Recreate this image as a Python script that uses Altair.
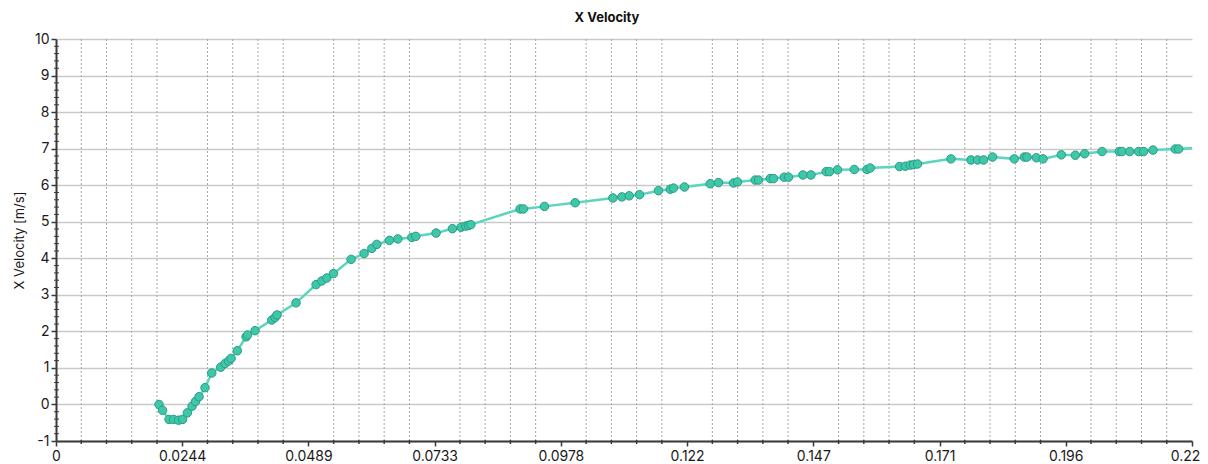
import altair as alt
import pandas as pd

# Data
x_vals = [0.01995, 0.02063, 0.02189, 0.02276, 0.02373, 0.02451, 0.02544, 0.02635, 0.02702, 0.0277,
          0.02886, 0.03016, 0.0319, 0.03274, 0.03342, 0.0339, 0.03512, 0.03681, 0.0371, 0.03855,
          0.04179, 0.04243, 0.04281, 0.04649, 0.05037, 0.05147, 0.05244, 0.05372, 0.05715, 0.05967,
          0.06116, 0.06213, 0.06457, 0.0662, 0.06891, 0.06968, 0.07361, 0.07677, 0.07846, 0.07937,
          0.07987, 0.08034, 0.08989, 0.09053, 0.09459, 0.10054, 0.10785, 0.10959, 0.111, 0.113,
          0.11668, 0.11895, 0.11958, 0.12171, 0.1267, 0.1283, 0.13121, 0.13198, 0.13541, 0.13605,
          0.13832, 0.13896, 0.14103, 0.14186, 0.14465, 0.1462, 0.14916, 0.1498, 0.15135, 0.15459,
          0.15705, 0.15769, 0.16337, 0.16447, 0.16544, 0.16608, 0.16685, 0.17332, 0.1772, 0.17848,
          0.17964, 0.18138, 0.18559, 0.18752, 0.18804, 0.18985, 0.19115, 0.19469, 0.19741, 0.1992,
          0.20258, 0.20593, 0.20645, 0.20792, 0.20967, 0.21064, 0.21245, 0.21677, 0.21741]
y_vals = [0.00, -0.16, -0.41, -0.41, -0.43, -0.41, -0.23, -0.05, 0.08, 0.21,
          0.46, 0.86, 1.02, 1.12, 1.19, 1.26, 1.47, 1.85, 1.90, 2.02,
          2.31, 2.38, 2.45, 2.78, 3.28, 3.38, 3.46, 3.58, 3.97, 4.13,
          4.27, 4.38, 4.49, 4.53, 4.57, 4.60, 4.69, 4.81, 4.85, 4.88,
          4.90, 4.92, 5.35, 5.35, 5.42, 5.52, 5.65, 5.68, 5.71, 5.74,
          5.85, 5.89, 5.92, 5.95, 6.04, 6.07, 6.06, 6.09, 6.14, 6.14,
          6.18, 6.18, 6.22, 6.22, 6.28, 6.28, 6.37, 6.37, 6.42, 6.43,
          6.43, 6.47, 6.51, 6.52, 6.55, 6.56, 6.58, 6.72, 6.69, 6.69,
          6.69, 6.77, 6.72, 6.77, 6.77, 6.75, 6.72, 6.83, 6.82, 6.86,
          6.92, 6.92, 6.92, 6.92, 6.92, 6.92, 6.96, 6.99, 6.99]
# line continues to the right edge past the last marker
line_end_x = [0.22]
line_end_y = [7.02]

x_major = [0.0, 0.0244444, 0.0488889, 0.0733333, 0.0977778, 0.1222222,
           0.1466667, 0.1711111, 0.1955556, 0.22]
y_major = [-1, 0, 1, 2, 3, 4, 5, 6, 7, 8, 9, 10]

step = 0.22 / 45
x_minor = [round(i * step, 7) for i in range(1, 45) if i % 5 != 0]
y_minor = [round(-1 + i * 0.2, 2) for i in range(0, 56) if i % 5 != 0]

pts = pd.DataFrame({"x": x_vals, "y": y_vals})
line_df = pd.DataFrame({"x": x_vals + line_end_x, "y": y_vals + line_end_y})
xminor_df = pd.DataFrame({"x": x_minor})
yminor_df = pd.DataFrame({"y": y_minor})

W, H = 1136, 402
FONT = "Inter"
xscale = alt.Scale(domain=[0, 0.22], nice=False, zero=False)
yscale = alt.Scale(domain=[-1, 10], nice=False, zero=False)

xaxis = alt.Axis(values=x_major, format=".3~r", grid=False, title=None,
                 domainColor="#3a3a3a", domainWidth=2, tickColor="#3a3a3a",
                 tickSize=5, tickWidth=1.5, labelFont=FONT, labelFontSize=14,
                 labelColor="#1a1a1a", labelPadding=3, labelFlush=False,
                 labelOffset=alt.condition("datum.value > 0.2199", alt.value(-7), alt.value(0)))
yaxis = alt.Axis(values=y_major, grid=True, gridColor="#c9c9c9", gridWidth=1.5,
                 labelExpr="toString(datum.value)",
                 title="X Velocity [m/s]", titleFont=FONT, titleFontSize=13,
                 titleFontWeight="normal", titleColor="#1a1a1a", titlePadding=8,
                 domainColor="#3a3a3a", domainWidth=2, tickColor="#3a3a3a",
                 tickSize=5, tickWidth=1.5, labelFont=FONT, labelFontSize=14,
                 labelColor="#1a1a1a", labelPadding=2)

X = alt.X("x:Q", scale=xscale, axis=xaxis)
Y = alt.Y("y:Q", scale=yscale, axis=yaxis)

vgrid = alt.Chart(xminor_df).mark_rule(color="#a8a8a8", strokeWidth=1, strokeDash=[2, 2]).encode(
    x=X
)

base_line = alt.Chart(line_df).mark_line(color="#5ad6bf", strokeWidth=2.5).encode(x=X, y=Y)

points = alt.Chart(pts).mark_point(filled=True, size=72, fill="#3ec8a9", stroke="#2c9a84",
                                   strokeWidth=1, opacity=1).encode(x=X, y=Y)

xticks = alt.Chart(xminor_df).mark_rule(color="#3a3a3a", strokeWidth=1.5).encode(
    x=X,
    y=alt.value(H - 1),
    y2=alt.value(H + 3),
)

yticks = alt.Chart(yminor_df).mark_rule(color="#3a3a3a", strokeWidth=1).encode(
    y=Y,
    x=alt.value(-2),
    x2=alt.value(3),
)

chart = alt.layer(vgrid, base_line, points, xticks, yticks).properties(
    width=W, height=H,
    background="white",
    title=alt.TitleParams("X Velocity", font=FONT, fontSize=13, fontWeight="bold",
                          color="#111111", anchor="middle", dx=-17, offset=7),
    autosize=alt.AutoSizeParams(type="none"),
    padding={"left": 48, "top": 31, "right": 8, "bottom": 23},
).configure_view(stroke=None)

chart.save("out.html", embed_options={"renderer": "svg", "actions": False})
